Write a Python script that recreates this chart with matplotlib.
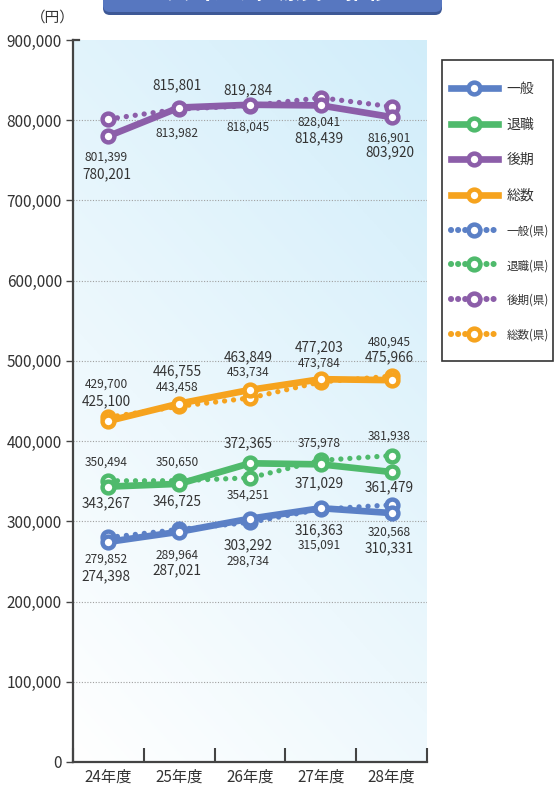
import matplotlib
matplotlib.use("Agg")
import matplotlib.pyplot as plt
import numpy as np
from matplotlib.lines import Line2D
from matplotlib.patches import FancyBboxPatch, Rectangle

plt.rcParams['font.family'] = ['Noto Sans CJK JP', 'DejaVu Sans']

# --- data (円, per year) ---
YEARS = ["24年度", "25年度", "26年度", "27年度", "28年度"]
IPPAN = [274398, 287021, 303292, 316363, 310331]
TAISHOKU = [343267, 346725, 372365, 371029, 361479]
KOUKI = [780201, 815801, 819284, 818439, 803920]
SOUSU = [425100, 446755, 463849, 477203, 475966]
IPPAN_KEN = [279852, 289964, 298734, 315091, 320568]
TAISHOKU_KEN = [350494, 350650, 354251, 375978, 381938]
KOUKI_KEN = [801399, 813982, 818045, 828041, 816901]
SOUSU_KEN = [429700, 443458, 453734, 473784, 480945]
YTICKS = list(range(0, 900001, 100000))

BLUE, GREEN, PURPLE, ORANGE = "#5b80c6", "#4fba6c", "#8c5ea9", "#f6a31e"
TXT = "#333333"

# label offsets in pixels (dy, up = positive) for each point
OFF = {
    "一般": [-34, -39, -27, -22, -35],
    "一般(県)": [-22, -26, -39, -36, -27],
    "退職": [-17, -17, 20, -19, -15],
    "退職(県)": [19, 19, -17, 17, 19],
    "後期": [-38, 22, 14, -33, -35],
    "後期(県)": [-38, -24, -21, -24, -31],
    "総数": [20, 32, 33, 32, 23],
    "総数(県)": [33, 19, 26, 19, 34],
}

solid = [("一般", IPPAN, BLUE), ("退職", TAISHOKU, GREEN),
         ("後期", KOUKI, PURPLE), ("総数", SOUSU, ORANGE)]
dotted = [("一般(県)", IPPAN_KEN, BLUE), ("退職(県)", TAISHOKU_KEN, GREEN),
          ("後期(県)", KOUKI_KEN, PURPLE), ("総数(県)", SOUSU_KEN, ORANGE)]

fig = plt.figure(figsize=(5.55, 7.9), dpi=100)
ax = fig.add_axes([73 / 555, 28 / 790, 354 / 555, 722 / 790])

# light diagonal gradient behind the plot
gx, gy = np.meshgrid(np.linspace(0, 1, 200), np.linspace(0, 1, 200))
t = 0.35 * gx + 0.65 * gy
c0, c1 = np.array([1.0, 1.0, 1.0]), np.array([0.82, 0.93, 0.98])
ax.imshow(c0 + (c1 - c0) * t[..., None], extent=(-0.5, 4.5, 0, 900000),
          origin="lower", aspect="auto", zorder=0)

for v in YTICKS[1:-1]:
    ax.axhline(v, color="#a0a0a0", lw=0.8, ls=(0, (1, 1.5)), zorder=1)

x = np.arange(len(YEARS))
mk = dict(marker="o", ms=8.5, mfc="white", mew=3.2)
for name, vals, c in dotted:
    ax.plot(x, vals, color=c, lw=3.8, ls=(0, (0.01, 1.7)), dash_capstyle="round",
            mec=c, zorder=3, **mk)
for name, vals, c in solid:
    ax.plot(x, vals, color=c, lw=4.8, solid_capstyle="round", mec=c, zorder=4, **mk)

for name, vals, c in solid + dotted:
    fs = 8.6 if "県" in name else 9.8
    for i, v in enumerate(vals):
        ax.annotate(f"{v:,}", (i, v), xytext=(-2, OFF[name][i]), textcoords="offset pixels",
                    ha="center", va="center", fontsize=fs, color=TXT, zorder=5)

ax.set_xlim(-0.5, 4.5)
ax.set_ylim(0, 900000)
ax.set_yticks(YTICKS)
ax.set_yticklabels([f"{v:,}" for v in YTICKS])
ax.set_xticks(x)
ax.set_xticklabels(YEARS)
ax.set_xticks(np.arange(-0.5, 5, 1), minor=True)
ax.tick_params(axis="x", which="major", length=0, pad=5, labelsize=11, labelcolor=TXT)
ax.tick_params(axis="x", which="minor", direction="in", length=10, width=1.5, color="#444")
ax.tick_params(axis="y", direction="out", length=5, width=1, color="#444",
               labelsize=11, labelcolor=TXT, pad=3)
for s in ("top", "right"):
    ax.spines[s].set_visible(False)
for s in ("left", "bottom"):
    ax.spines[s].set_color("#444")
    ax.spines[s].set_linewidth(1.6)
ax.axhline(900000, xmin=0, xmax=0.018, color="#444", lw=1.6, clip_on=False)

fig.text(53 / 555, 1 - 18 / 790, "（円）", ha="center", va="center", fontsize=10.5, color=TXT)

# legend: box drawn in pixels, entries by matplotlib
fig.add_artist(Rectangle((442, 790 - 361), 111, 301, transform=None, fc="white",
                         ec="#333", lw=1.2, zorder=4))
handles, labels = [], []
for name, vals, c in solid:
    handles.append(Line2D([], [], color=c, lw=4.8, mec=c, **mk))
    labels.append(name)
for name, vals, c in dotted:
    handles.append(Line2D([], [], color=c, lw=4.4, ls=(0, (0.01, 1.15)),
                          dash_capstyle="round", mec=c, **mk))
    labels.append(name)
leg = fig.legend(handles, labels, loc="upper left", bbox_to_anchor=(451 / 555, 1 - 82 / 790),
                 numpoints=1, handlelength=3.38, handletextpad=0.6, labelspacing=1.56,
                 borderpad=0, borderaxespad=0, fontsize=10, frameon=False)
leg.set_zorder(5)
for txt in leg.get_texts():
    txt.set_color(TXT)
    if "県" in txt.get_text():
        txt.set_fontsize(8.3)

# title banner (cut off at the top of the page)
fig.add_artist(FancyBboxPatch((103, 775), 339, 60, boxstyle="round,pad=0,rounding_size=7",
                              transform=None, fc="#3d5896", ec="none"))
fig.add_artist(FancyBboxPatch((103, 778), 339, 60, boxstyle="round,pad=0,rounding_size=7",
                              transform=None, fc="#5777c0", ec="none"))
fig.text(272 / 555, 790.5 / 790, "1人当たり医療費の推移", ha="center", va="baseline",
         fontsize=16, color="white", fontweight="bold")

fig.savefig("out.png", dpi=100)
